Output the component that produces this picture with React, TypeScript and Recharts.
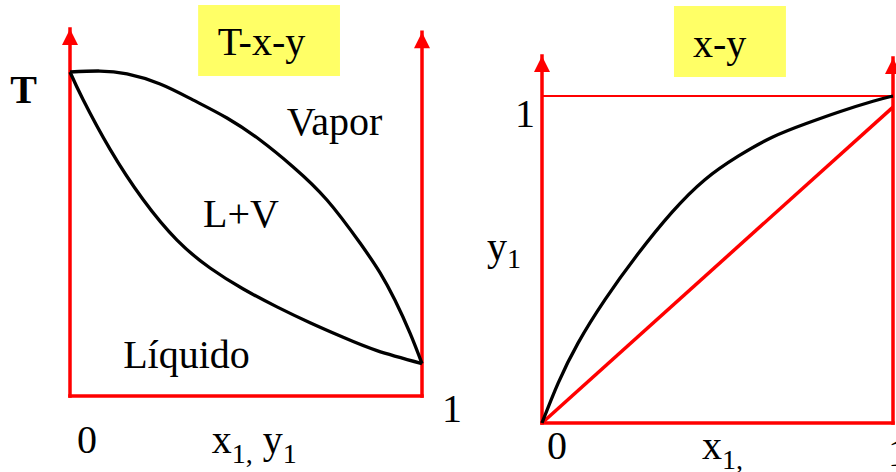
import React from 'react';
import { LineChart, Line, XAxis, YAxis, ReferenceLine, ReferenceDot, ReferenceArea } from 'recharts';

const FONT = "'Liberation Serif', 'Times New Roman', Times, serif";
const RED = '#ff0000';
const YELLOW = '#ffff66';

// T-x-y diagram: dew (vapour) and bubble (liquid) curves, T normalised to 0..1
const dewX = [0, 0.085, 0.162, 0.256, 0.349, 0.446, 0.54, 0.634, 0.73, 0.824, 0.881, 0.923, 0.966, 1];
const dewT = [1, 1.003, 0.994, 0.963, 0.914, 0.858, 0.79, 0.707, 0.605, 0.472, 0.38, 0.296, 0.194, 0.1];
const bubbleX = [0, 0.037, 0.114, 0.207, 0.304, 0.398, 0.491, 0.588, 0.682, 0.776, 0.872, 1];
const bubbleT = [1, 0.915, 0.761, 0.607, 0.481, 0.395, 0.331, 0.275, 0.226, 0.181, 0.14, 0.1];

// x-y diagram: equilibrium curve and the y = x reference
const eqX = [0, 0.046, 0.103, 0.18, 0.272, 0.37, 0.464, 0.559, 0.656, 0.753, 0.848, 0.943, 1];
const eqY = [0, 0.122, 0.245, 0.378, 0.515, 0.644, 0.744, 0.816, 0.874, 0.916, 0.952, 0.984, 1];
const diagX = [0, 1];
const diagY = [0, 0.966];

// tops of the vertical axis arrows
const txyArrowTops = [1.133, 1.123];
const xyArrowTops = [1.122, 1.116];

const zip = (xs: number[], ys: number[]) => xs.map((x, i) => ({ x, y: ys[i] }));

const arrowHead = (p: any) => (
  <polygon points={`${p.cx},${p.cy} ${p.cx - 8},${p.cy + 16} ${p.cx + 8},${p.cy + 16}`} fill={RED} />
);

const textAt = (children: React.ReactNode, extra: Record<string, unknown> = {}) => (p: any) => (
  <text x={p.cx} y={p.cy} fontSize={40} fill="#000" style={{ fontFamily: FONT }} {...extra}>
    {children}
  </text>
);

const axisLine = { stroke: RED, strokeWidth: 3.5, strokeLinecap: 'square' as const, ifOverflow: 'visible' as const };

function TxyChart() {
  return (
    <LineChart width={476} height={472} margin={{ top: 7.2, right: 54, bottom: 76, left: 70 }}>
      <XAxis type="number" dataKey="x" domain={[0, 1]} hide />
      <YAxis type="number" dataKey="y" domain={[0, 1.2]} hide />
      <ReferenceArea x1={0.364} x2={0.767} y1={0.988} y2={1.207} fill={YELLOW} fillOpacity={1} stroke="none" ifOverflow="visible" />
      <ReferenceLine segment={[{ x: 0, y: 0 }, { x: 0, y: txyArrowTops[0] }]} {...axisLine} />
      <ReferenceLine segment={[{ x: 1, y: 0 }, { x: 1, y: txyArrowTops[1] }]} {...axisLine} />
      <ReferenceLine segment={[{ x: 0, y: 0 }, { x: 1, y: 0 }]} {...axisLine} />
      <ReferenceDot x={0} y={txyArrowTops[0]} ifOverflow="visible" shape={arrowHead} />
      <ReferenceDot x={1} y={txyArrowTops[1]} ifOverflow="visible" shape={arrowHead} />
      <Line data={zip(dewX, dewT)} dataKey="y" type="natural" stroke="#000" strokeWidth={3.3} dot={false} activeDot={false} isAnimationActive={false} />
      <Line data={zip(bubbleX, bubbleT)} dataKey="y" type="natural" stroke="#000" strokeWidth={3.3} dot={false} activeDot={false} isAnimationActive={false} />
      <ReferenceDot x={0.42} y={1.052} ifOverflow="visible" shape={textAt('T-x-y')} />
      <ReferenceDot x={-0.17} y={0.904} ifOverflow="visible" shape={textAt('T', { fontWeight: 'bold' })} />
      <ReferenceDot x={0.616} y={0.806} ifOverflow="visible" shape={textAt('Vapor')} />
      <ReferenceDot x={0.378} y={0.522} ifOverflow="visible" shape={textAt('L+V')} />
      <ReferenceDot x={0.151} y={0.086} ifOverflow="visible" shape={textAt('Líquido')} />
      <ReferenceDot x={1.057} y={-0.08} ifOverflow="visible" shape={textAt('1')} />
      <ReferenceDot x={0.02} y={-0.176} ifOverflow="visible" shape={textAt('0')} />
      <ReferenceDot
        x={0.403}
        y={-0.176}
        ifOverflow="visible"
        shape={textAt(
          <>
            x<tspan fontSize={28} dy={10}>1,</tspan>
            <tspan dy={-10}> y</tspan>
            <tspan fontSize={28} dy={10}>1</tspan>
          </>,
        )}
      />
    </LineChart>
  );
}

function XyChart() {
  return (
    <LineChart width={420} height={472} margin={{ top: 14.25, right: 3, bottom: 49, left: 66 }}>
      <XAxis type="number" dataKey="x" domain={[0, 1]} hide />
      <YAxis type="number" dataKey="y" domain={[0, 1.25]} hide />
      <ReferenceArea x1={0.376} x2={0.695} y1={1.058} y2={1.275} fill={YELLOW} fillOpacity={1} stroke="none" ifOverflow="visible" />
      <ReferenceLine segment={[{ x: 0, y: 1 }, { x: 1, y: 1 }]} stroke={RED} strokeWidth={2} ifOverflow="visible" />
      <ReferenceLine segment={[{ x: 0, y: 0 }, { x: 0, y: xyArrowTops[0] }]} {...axisLine} />
      <ReferenceLine segment={[{ x: 1, y: 0 }, { x: 1, y: xyArrowTops[1] }]} {...axisLine} />
      <ReferenceLine segment={[{ x: 0, y: 0 }, { x: 1, y: 0 }]} {...axisLine} />
      <ReferenceDot x={0} y={xyArrowTops[0]} ifOverflow="visible" shape={arrowHead} />
      <ReferenceDot x={1} y={xyArrowTops[1]} ifOverflow="visible" shape={arrowHead} />
      <Line data={zip(diagX, diagY)} dataKey="y" type="linear" stroke={RED} strokeWidth={3.5} dot={false} activeDot={false} isAnimationActive={false} />
      <Line data={zip(eqX, eqY)} dataKey="y" type="natural" stroke="#000" strokeWidth={3.3} dot={false} activeDot={false} isAnimationActive={false} />
      <ReferenceDot x={0.43} y={1.119} ifOverflow="visible" shape={textAt('x-y')} />
      <ReferenceDot x={-0.077} y={0.905} ifOverflow="visible" shape={textAt('1')} />
      <ReferenceDot
        x={-0.157}
        y={0.498}
        ifOverflow="visible"
        shape={textAt(
          <>
            y<tspan fontSize={28} dy={8}>1</tspan>
          </>,
        )}
      />
      <ReferenceDot x={0.014} y={-0.11} ifOverflow="visible" shape={textAt('0')} />
      <ReferenceDot
        x={0.456}
        y={-0.11}
        ifOverflow="visible"
        shape={textAt(
          <>
            x<tspan fontSize={28} dy={10}>1,</tspan>
          </>,
        )}
      />
      <ReferenceDot x={0.986} y={-0.131} ifOverflow="visible" shape={textAt('1')} />
    </LineChart>
  );
}

export default function App() {
  return (
    <div style={{ position: 'absolute', left: 0, top: 0, width: 896, height: 472, background: '#fff', overflow: 'hidden' }}>
      <div style={{ position: 'absolute', left: 0, top: 0 }}>
        <TxyChart />
      </div>
      <div style={{ position: 'absolute', left: 476, top: 0 }}>
        <XyChart />
      </div>
    </div>
  );
}
